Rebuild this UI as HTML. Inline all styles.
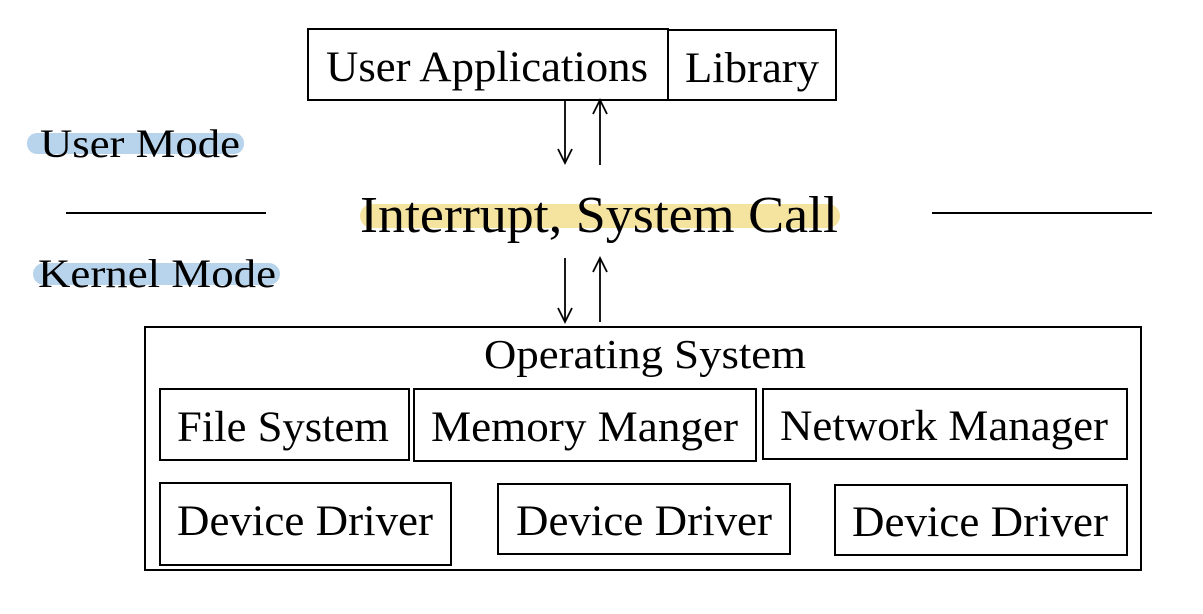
<!DOCTYPE html>
<html><head><style>
html,body{margin:0;padding:0;background:#fff;}
svg{display:block;}
text{font-family:"Liberation Serif","Times New Roman",serif;fill:#000;}
</style></head><body>
<svg width="1203" height="614" viewBox="0 0 1203 614" xmlns="http://www.w3.org/2000/svg">
<g fill="none" stroke="#000" stroke-width="2">
<rect x="308" y="29" width="360" height="71"/>
<rect x="668" y="30" width="168" height="70"/>
<rect x="145" y="327" width="996" height="243"/>
<rect x="160" y="389" width="249" height="71"/>
<rect x="414" y="389" width="342" height="72"/>
<rect x="763" y="389" width="364" height="70"/>
<rect x="160" y="483" width="291" height="82"/>
<rect x="498" y="484" width="292" height="70"/>
<rect x="835" y="485" width="292" height="70"/>
</g>
<g stroke="#000" stroke-width="1.8" fill="none">
<line x1="565" y1="100" x2="565" y2="163"/>
<path d="M558,149 L565,163 L572,149"/>
<line x1="600" y1="165" x2="600" y2="100"/>
<path d="M593,114 L600,100 L607,114"/>
<line x1="565" y1="258" x2="565" y2="322"/>
<path d="M558,308 L565,322 L572,308"/>
<line x1="600" y1="322" x2="600" y2="258"/>
<path d="M593,272 L600,258 L607,272"/>
<line x1="66" y1="213" x2="266" y2="213" stroke-width="2"/>
<line x1="932" y1="213" x2="1152" y2="213" stroke-width="2"/>
</g>
<rect x="27" y="133" width="217" height="21" rx="10" fill="#b8d4ec"/>
<rect x="33" y="263" width="247" height="22" rx="11" fill="#b8d4ec"/>
<rect x="360" y="204" width="480" height="24" rx="12" fill="#f5e3a0"/>
<text x="326" y="81" font-size="43" textLength="322" lengthAdjust="spacingAndGlyphs">User Applications</text>
<text x="685" y="82" font-size="43" textLength="134" lengthAdjust="spacingAndGlyphs">Library</text>
<text x="40" y="157" font-size="40" textLength="200" lengthAdjust="spacingAndGlyphs">User Mode</text>
<text x="38" y="287" font-size="40" textLength="238" lengthAdjust="spacingAndGlyphs">Kernel Mode</text>
<text x="360" y="232" font-size="52" textLength="478" lengthAdjust="spacingAndGlyphs">Interrupt, System Call</text>
<text x="484" y="368" font-size="41" textLength="322" lengthAdjust="spacingAndGlyphs">Operating System</text>
<text x="177" y="441" font-size="43" textLength="212" lengthAdjust="spacingAndGlyphs">File System</text>
<text x="431" y="441" font-size="43" textLength="307" lengthAdjust="spacingAndGlyphs">Memory Manger</text>
<text x="780" y="440" font-size="43" textLength="328" lengthAdjust="spacingAndGlyphs">Network Manager</text>
<text x="177" y="535" font-size="43" textLength="256" lengthAdjust="spacingAndGlyphs">Device Driver</text>
<text x="516" y="535" font-size="43" textLength="256" lengthAdjust="spacingAndGlyphs">Device Driver</text>
<text x="852" y="536" font-size="43" textLength="256" lengthAdjust="spacingAndGlyphs">Device Driver</text>
</svg>
</body></html>
